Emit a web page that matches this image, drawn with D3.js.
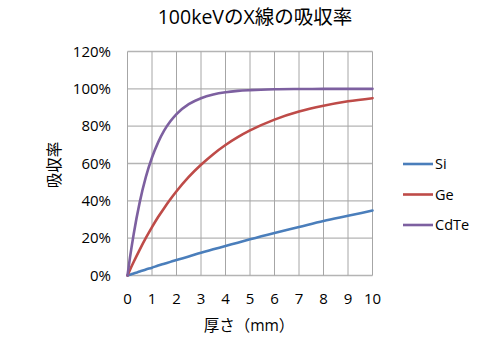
<!DOCTYPE html>
<html><head><meta charset="utf-8">
<script src="https://cdn.jsdelivr.net/npm/d3@7"></script>
<style>
body{margin:0;background:#fff;}
text{font-family:"Open Sans","Noto Sans CJK JP",sans-serif;fill:#000;}
</style></head>
<body><svg id="c" width="500" height="350"></svg>
<script>
const thickness  = [0,0.1,0.25,0.5,0.75,1,1.25,1.5,1.75,2,2.5,3,3.5,4,4.5,5,6,7,8,9,10];
const siValues   = [0,0.4,1.1,2.1,3.2,4.2,5.3,6.3,7.3,8.3,10.2,12.2,14,15.8,17.6,19.4,22.8,26,29.2,32,34.8];
const geValues   = [0,3.0,7.2,13.9,20.1,25.9,31.3,36.2,40.8,45.1,52.8,59.3,65,69.9,74.1,77.7,83.5,87.8,90.9,93.3,95];
const cdteValues = [0,9.5,22,39.3,52.8,63.2,71.3,77.7,82.6,86.5,91.8,95,97,98.2,98.9,99.3,99.75,99.9,99.97,100,100];
const seriesNames = ["Si","Ge","CdTe"];
const seriesColors = ["#4a7ebb","#be4b48","#7d60a0"];
const xTicks = [0,1,2,3,4,5,6,7,8,9,10];
const yTicks = [0,20,40,60,80,100,120];
const titleText = "100keVのX線の吸収率";
const xTitle = "厚さ（mm）";
const yTitle = "吸収率";

const series = [siValues, geValues, cdteValues].map((v,i)=>({name:seriesNames[i], color:seriesColors[i], pts:thickness.map((t,j)=>[t,v[j]])}));

const svg = d3.select("#c");
const L=127.5, R=372.5, T=51.5, B=275.5;
const x = d3.scaleLinear().domain([0,10]).range([L,R]);
const y = d3.scaleLinear().domain([0,120]).range([B,T]);

// grid
const g = svg.append("g");
g.selectAll(".hg").data(yTicks).join("line")
  .attr("x1",L).attr("x2",R).attr("y1",d=>y(d)).attr("y2",d=>y(d))
  .attr("stroke","#b4b4b4").attr("stroke-width",1.3);
g.selectAll(".vg").data(xTicks).join("line")
  .attr("y1",T).attr("y2",B).attr("x1",d=>x(d)).attr("x2",d=>x(d))
  .attr("stroke","#a6a6a6").attr("stroke-width",1);

// axes labels
svg.append("g").selectAll("text").data(yTicks).join("text")
  .attr("x",111).attr("y",d=>y(d)).attr("dy","0.35em").attr("text-anchor","end")
  .attr("font-size",15).text(d=>d+"%");
svg.append("g").selectAll("text").data(xTicks).join("text")
  .attr("x",d=>x(d)).attr("y",299).attr("dy","0.35em").attr("text-anchor","middle")
  .attr("font-size",15).text(d=>d);

// lines
const line = d3.line().x(d=>x(d[0])).y(d=>y(d[1])).curve(d3.curveMonotoneX);
svg.append("g").selectAll("path").data(series).join("path")
  .attr("d",d=>line(d.pts)).attr("fill","none").attr("stroke",d=>d.color)
  .attr("stroke-width",2.6).attr("stroke-linecap","round").attr("stroke-linejoin","round");

// title
svg.append("text").attr("x",255).attr("y",17).attr("dy","0.35em").attr("text-anchor","middle")
  .attr("font-size",19.5).text(titleText);
svg.append("text").attr("x",249).attr("y",326).attr("dy","0.35em").attr("text-anchor","middle")
  .attr("font-size",15.5).text(xTitle);
svg.append("text").attr("transform","translate(55,165) rotate(-90)").attr("dy","0.35em")
  .attr("text-anchor","middle").attr("font-size",15.5).text(yTitle);

// legend
const lg = svg.append("g").selectAll("g").data(series).join("g")
  .attr("transform",(d,i)=>`translate(403,${164+i*30.5})`);
lg.append("line").attr("x1",0).attr("x2",30).attr("stroke",d=>d.color).attr("stroke-width",2.6);
lg.append("text").attr("x",32).attr("dy","0.35em").attr("font-size",14.5).text(d=>d.name);
</script></body></html>
